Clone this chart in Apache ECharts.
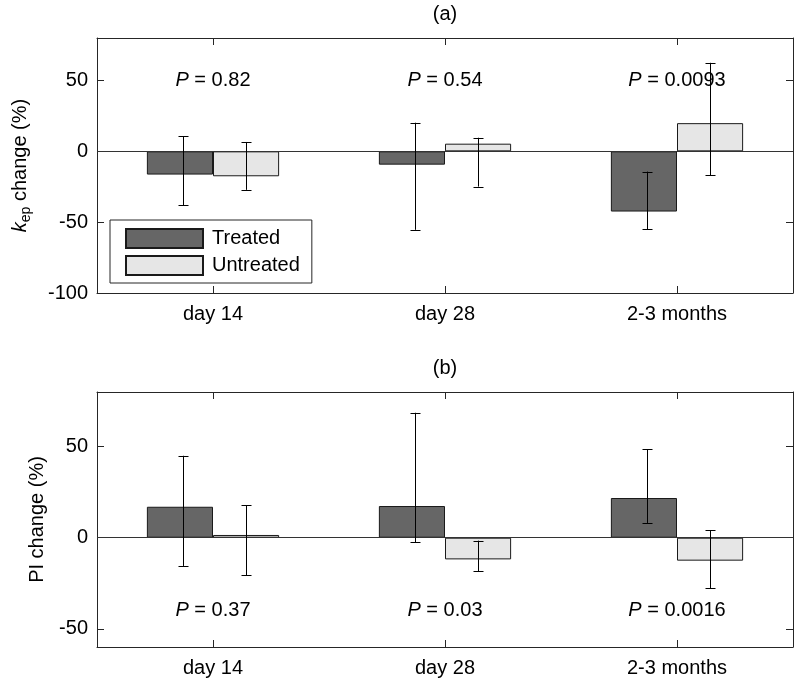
<!DOCTYPE html>
<html>
<head>
<meta charset="utf-8">
<script src="https://cdn.jsdelivr.net/npm/echarts@6/dist/echarts.min.js"></script>
<style>html,body{margin:0;padding:0;background:#fff}#c{width:800px;height:685px}</style>
</head>
<body>
<div id="c"></div>
<script>
const categories = ['day 14', 'day 28', '2-3 months'];
const seriesNames = ['Treated', 'Untreated'];

const kepTreated = [-16.4, -9.4, -42.5];
const kepUntreated = [-17.6, 5.4, 19.9];
const kepTreatedLow = [-38.2, -55.4, -54.9];
const kepTreatedHigh = [10.8, 20.2, -14.3];
const kepUntreatedLow = [-27.2, -24.9, -16.9];
const kepUntreatedHigh = [6.6, 9.6, 62.5];
const kepP = ['0.82', '0.54', '0.0093'];
const kepTicks = [-100, -50, 0, 50];

const piTreated = [17.0, 17.4, 21.8];
const piUntreated = [1.5, -11.9, -12.6];
const piTreatedLow = [-15.5, -2.4, 8.1];
const piTreatedHigh = [45.0, 68.6, 48.5];
const piUntreatedLow = [-20.5, -18.3, -27.6];
const piUntreatedHigh = [17.8, -1.6, 4.0];
const piP = ['0.37', '0.03', '0.0016'];
const piTicks = [-50, 0, 50];

const FONT = "'Liberation Sans', Arial, Helvetica, sans-serif";
const AX = '#262626';
const DARK = '#666666';
const LIGHT = '#e6e6e6';
const GAP = 0.43;

function xAxes(gi) {
  const base = {
    type: 'category', gridIndex: gi, data: categories, boundaryGap: true,
    axisLine: { show: true, onZero: false, lineStyle: { color: AX, width: 1 } },
    axisTick: { show: true, inside: true, alignWithLabel: true, length: 7, lineStyle: { color: AX } },
    splitLine: { show: false }
  };
  return [
    Object.assign({}, base, { position: 'bottom', axisLabel: { show: true, fontSize: 20, color: '#000', fontFamily: FONT, margin: 11 } }),
    Object.assign({}, base, { position: 'top', axisLabel: { show: false } })
  ];
}
function yAxes(gi, min, max, ticks, nameRich, nameText, nameGap) {
  const base = {
    type: 'value', gridIndex: gi, min: min, max: max,
    axisLine: { show: true, onZero: false, lineStyle: { color: AX, width: 1 } },
    axisTick: { show: true, inside: true, length: 7, customValues: ticks, lineStyle: { color: AX } },
    splitLine: { show: false }
  };
  return [
    Object.assign({}, base, {
      position: 'left',
      axisLabel: { show: true, customValues: ticks, fontSize: 20, color: '#000', fontFamily: FONT, margin: 9 },
      name: nameText, nameLocation: 'middle', nameRotate: 90, nameGap: nameGap,
      nameTextStyle: { fontSize: 20, color: '#000', fontFamily: FONT, rich: nameRich }
    }),
    Object.assign({}, base, { position: 'right', axisLabel: { show: false } })
  ];
}
function barSeries(name, xi, yi, vals, color, withZero) {
  const s = {
    name: name, type: 'bar', xAxisIndex: xi, yAxisIndex: yi, data: vals,
    barGap: '0%', barCategoryGap: (GAP * 100) + '%',
    itemStyle: { color: color, borderColor: '#1a1a1a', borderWidth: 1 },
    emphasis: { disabled: true }, z: 2
  };
  if (withZero) {
    s.markLine = {
      silent: true, symbol: ['none', 'none'], label: { show: false },
      lineStyle: { color: '#333', width: 1, type: 'solid' },
      data: [{ yAxis: 0 }], z: 5
    };
  }
  return s;
}
function errSeries(xi, yi, low, high, side) {
  return {
    type: 'custom', xAxisIndex: xi, yAxisIndex: yi, silent: true, z: 10,
    encode: { x: 0, y: [1, 2] },
    data: categories.map((c, i) => [i, low[i], high[i]]),
    renderItem: function (params, api) {
      const band = api.size([1, 0])[0];
      const bw = band * (1 - GAP) / 2;
      const off = side * bw / 2 + (side < 0 ? 3 : 0);
      const p1 = api.coord([api.value(0), api.value(1)]);
      const p2 = api.coord([api.value(0), api.value(2)]);
      const x = Math.round(p1[0] + off) + 0.5;
      const st = { stroke: '#000', lineWidth: 1 };
      const cap = 5;
      return {
        type: 'group', children: [
          { type: 'line', shape: { x1: x, y1: p1[1], x2: x, y2: p2[1] }, style: st },
          { type: 'line', shape: { x1: x - cap, y1: Math.round(p1[1]) + 0.5, x2: x + cap, y2: Math.round(p1[1]) + 0.5 }, style: st },
          { type: 'line', shape: { x1: x - cap, y1: Math.round(p2[1]) + 0.5, x2: x + cap, y2: Math.round(p2[1]) + 0.5 }, style: st }
        ]
      };
    }
  };
}
function pSeries(xi, yi, pv, level) {
  return {
    type: 'scatter', xAxisIndex: xi, yAxisIndex: yi, symbolSize: 0, silent: true, z: 12,
    itemStyle: { opacity: 1 },
    data: categories.map((c, i) => [i, level]),
    label: {
      show: true, position: 'inside', opacity: 1,
      formatter: function (p) { return '{i|P}{n| = ' + pv[p.dataIndex] + '}'; },
      fontSize: 20, color: '#000', fontFamily: FONT, textBorderWidth: 0,
      rich: {
        i: { fontStyle: 'italic', fontSize: 20, color: '#000', fontFamily: FONT },
        n: { fontSize: 20, color: '#000', fontFamily: FONT }
      }
    }
  };
}

const kepRich = {
  k: { fontStyle: 'italic', fontSize: 20, color: '#000', fontFamily: FONT },
  sub: { fontSize: 14, color: '#000', fontFamily: FONT, verticalAlign: 'bottom', padding: [12, 0, 0, 0] }
};

const option = {
  animation: false,
  backgroundColor: '#fff',
  textStyle: { fontFamily: FONT },
  title: [
    { text: '(a)', left: 445, top: 4, textAlign: 'center', padding: 0, textStyle: { fontSize: 20, fontWeight: 'normal', color: '#000', fontFamily: FONT } },
    { text: '(b)', left: 445, top: 358, textAlign: 'center', padding: 0, textStyle: { fontSize: 20, fontWeight: 'normal', color: '#000', fontFamily: FONT } }
  ],
  grid: [
    { left: 97, top: 38, width: 696, height: 255, containLabel: false },
    { left: 97, top: 392, width: 696, height: 255, containLabel: false }
  ],
  legend: {
    data: seriesNames, orient: 'vertical', left: 110, top: 220,
    icon: 'rect', itemWidth: 77, itemHeight: 19, itemGap: 6,
    padding: [8, 12, 7, 15], borderColor: AX, borderWidth: 1, backgroundColor: '#fff',
    textStyle: { fontSize: 20, color: '#000', fontFamily: FONT, lineHeight: 19, padding: [0, 0, 0, 4] },
    selectedMode: false, z: 20
  },
  xAxis: [].concat(xAxes(0), xAxes(1)),
  yAxis: [].concat(
    yAxes(0, -100, 80, kepTicks, kepRich, '{k|k}{sub|ep} change (%)', 64),
    yAxes(1, -60, 80, piTicks, {}, 'PI change (%)', 50)
  ),
  series: [
    barSeries('Treated', 0, 0, kepTreated, DARK, false),
    barSeries('Untreated', 0, 0, kepUntreated, LIGHT, true),
    errSeries(0, 0, kepTreatedLow, kepTreatedHigh, -1),
    errSeries(0, 0, kepUntreatedLow, kepUntreatedHigh, 1),
    pSeries(0, 0, kepP, 50),
    barSeries('Treated', 2, 2, piTreated, DARK, false),
    barSeries('Untreated', 2, 2, piUntreated, LIGHT, true),
    errSeries(2, 2, piTreatedLow, piTreatedHigh, -1),
    errSeries(2, 2, piUntreatedLow, piUntreatedHigh, 1),
    pSeries(2, 2, piP, -40)
  ]
};

const chart = echarts.init(document.getElementById('c'), null, { renderer: 'canvas' });
chart.setOption(option);
</script>
</body>
</html>
